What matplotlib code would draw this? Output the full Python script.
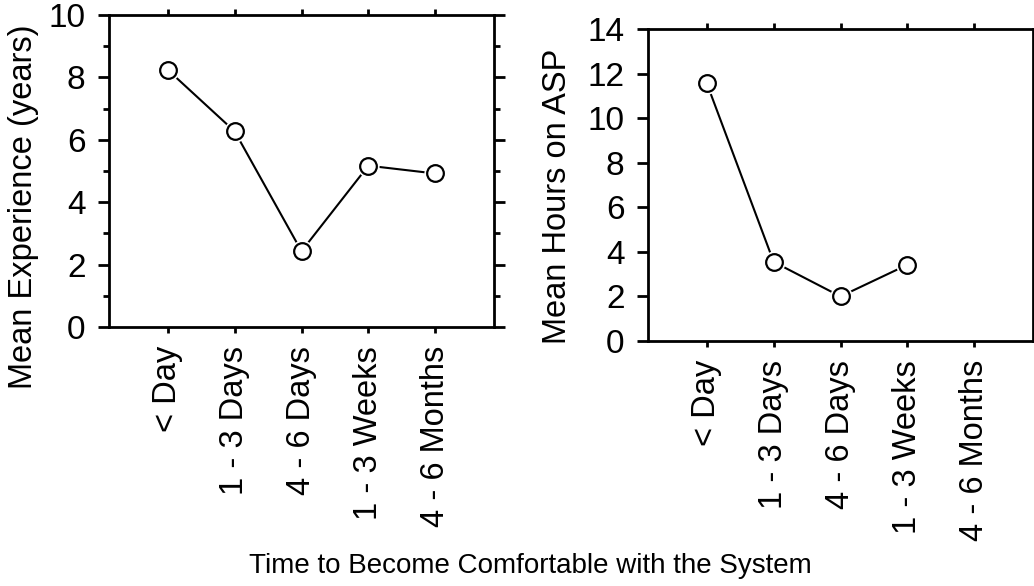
import matplotlib
matplotlib.use("Agg")
import matplotlib.pyplot as plt
from matplotlib.ticker import MultipleLocator

plt.rcParams['font.family'] = ['Liberation Sans', 'DejaVu Sans']

categories = ["< Day", "1 - 3 Days", "4 - 6 Days", "1 - 3 Weeks", "4 - 6 Months"]
experience = [8.24, 6.27, 2.43, 5.17, 4.92]
hours = [11.56, 3.55, 2.0, 3.42]

xlabel = "Time to Become Comfortable with the System"
ylabel_left = "Mean Experience (years)"
ylabel_right = "Mean Hours on ASP"

FS_XT = 23.5
FS_YT = 24
FS_YL = 23.5
FS_XL = 20
W, H = 1034, 586
fig = plt.figure(figsize=(W / 100, H / 100), dpi=100)

def box(l, t, r, b):
    return [l / W, 1 - b / H, (r - l) / W, (b - t) / H]

axL = fig.add_axes(box(109, 15, 494, 327))
axR = fig.add_axes(box(648, 29, 1033, 341))

def draw(ax, vals, ymax, minor):
    x = list(range(len(vals)))
    ax.plot(x, vals, color='black', lw=1.5, zorder=2)
    ax.plot(x, vals, ls='none', marker='o', ms=15, mfc='white', mec='white', zorder=3)
    ax.plot(x, vals, ls='none', marker='o', ms=12, mfc='white', mec='black', mew=1.6, zorder=4)
    ax.set_xlim(-0.88, 4.88)
    ax.set_ylim(0, ymax)
    ax.set_xticks(range(len(categories)))
    ax.set_xticklabels(categories, rotation=90, fontsize=FS_XT)
    ax.yaxis.set_major_locator(MultipleLocator(2))
    if minor:
        ax.yaxis.set_minor_locator(MultipleLocator(1))
    for s in ax.spines.values():
        s.set_linewidth(2)
    ax.tick_params(axis='x', which='major', direction='out', length=4.5, width=2,
                   top=True, bottom=True, pad=9)
    ax.tick_params(axis='y', which='major', direction='out', length=8, width=2,
                   left=True, right=True, labelsize=FS_YT, pad=9)
    ax.tick_params(axis='y', which='minor', direction='out', length=4.5, width=2,
                   left=minor, right=minor)

draw(axL, experience, 10, True)
draw(axR, hours, 14, False)

fig.text(24 / W, 1 - 207 / H, ylabel_left, rotation=90, ha='center', va='center', fontsize=FS_YL)
fig.text(558 / W, 1 - 196 / H, ylabel_right, rotation=90, ha='center', va='center', fontsize=FS_YL)
fig.text(530 / W, 1 - 566 / H, xlabel, ha='center', va='center', fontsize=FS_XL)

fig.savefig("out.png", dpi=100)
